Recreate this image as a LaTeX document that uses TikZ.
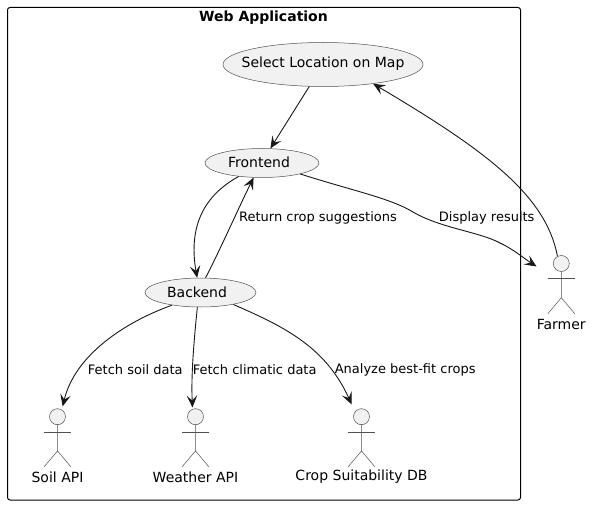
\documentclass[tikz,border=0pt]{standalone}
\usepackage{fontspec}
\setmainfont{DejaVu Sans}
\usetikzlibrary{arrows.meta,shapes.geometric}
\definecolor{ufill}{HTML}{F1F1F1}
\definecolor{uline}{HTML}{181818}
\definecolor{uthin}{HTML}{505050}
\tikzset{
  usecase/.style={ellipse,draw=uthin,fill=ufill,line width=0.5pt,inner sep=0pt},
  acthead/.style={circle,draw=uthin,fill=ufill,line width=0.5pt,inner sep=0pt,minimum size=16pt},
  actline/.style={draw=uthin,line width=0.5pt},
  casetext/.style={font=\fontsize{14}{16}\selectfont,text=black,inner sep=0pt},
  actlabel/.style={font=\fontsize{14}{16}\selectfont,text=black,inner sep=0pt},
  edgelabel/.style={font=\fontsize{13}{15}\selectfont,text=black,inner sep=0pt},
  link/.style={draw=uline,line width=0.9pt,-{Stealth[length=12pt,width=10.5pt,inset=5pt]}},
  frame/.style={draw=black,line width=1pt,rounded corners=2.5pt}
}
\newcommand{\actorfig}[1]{%
  \path[actline] (#1.south) -- ++(0,26) -- ++(-13.5,16) (#1.south) ++(0,26) -- ++(13.5,16);
  \path[actline] (#1.south) ++(-13.5,7) -- ++(27,0);
}
\begin{document}
\begin{tikzpicture}[x=1pt,y=-1pt]
\useasboundingbox (0,0) rectangle (592,505);
\path[frame] (7.5,7.5) rectangle (520.5,500);
\node[inner sep=0pt,font=\fontsize{14}{16}\selectfont\bfseries,text=black] (title) at (263.5,18) {Web Application};
\node[usecase,minimum width=200pt,minimum height=44pt] (sel) at (323,64.5) {};
\node[casetext] (seltext) at (323,63.5) {Select Location on Map};
\node[usecase,minimum width=114pt,minimum height=29pt] (front) at (262,163) {};
\node[casetext] (fronttext) at (259,162.5) {Frontend};
\node[usecase,minimum width=111pt,minimum height=29pt] (back) at (200.5,292.5) {};
\node[casetext] (backtext) at (197,292.5) {Backend};
\node[acthead] (soil) at (57.5,416.7) {};
\node[acthead] (weather) at (195.5,416.7) {};
\node[acthead] (crop) at (361.5,416.7) {};
\node[acthead] (farmer) at (561.3,263.5) {};
\actorfig{soil}
\actorfig{weather}
\actorfig{crop}
\actorfig{farmer}
\node[actlabel] (soillab) at (57.5,477) {Soil API};
\node[actlabel] (weatherlab) at (195.5,477) {Weather API};
\node[actlabel] (croplab) at (361.5,477) {Crop Suitability DB};
\node[actlabel] (farmerlab) at (561.3,324) {Farmer};
\coordinate (farmertip) at (536.5,266.5);
\draw[link] (sel.-122.5) -- (front.60);
\draw[link] (farmer.118) .. controls (546,195) and (485,150) .. (sel.-21.8);
\draw[link] (front.-16.9) .. controls (350,190) and (390,198) .. (413,212) .. controls (440,228) and (480,232) .. (500,243) .. controls (513,249) and (525,259) .. (farmertip);
\draw[link] (front.-150.3) .. controls (205,195) and (188,225) .. (back.103.5);
\draw[link] (back.71) .. controls (220,250) and (240,205) .. (front.-120.6);
\draw[link,shorten >=3.4pt] (back.-156.6) .. controls (125,322) and (75,355) .. (soil.58);
\draw[link,shorten >=1.5pt] (back.-102.5) .. controls (194,340) and (191,375) .. (weather.111);
\draw[link,shorten >=8pt] (back.-20) .. controls (280,325) and (325,345) .. (crop.143.7);
\node[edgelabel] (lreturn) at (318,218) {Return crop suggestions};
\node[edgelabel] (ldisplay) at (486.7,218) {Display results};
\node[edgelabel] (lsoil) at (135.3,370) {Fetch soil data};
\node[edgelabel] (lclim) at (254.7,370) {Fetch climatic data};
\node[edgelabel] (lbest) at (405.2,370) {Analyze best-fit crops};
\end{tikzpicture}
\end{document}
